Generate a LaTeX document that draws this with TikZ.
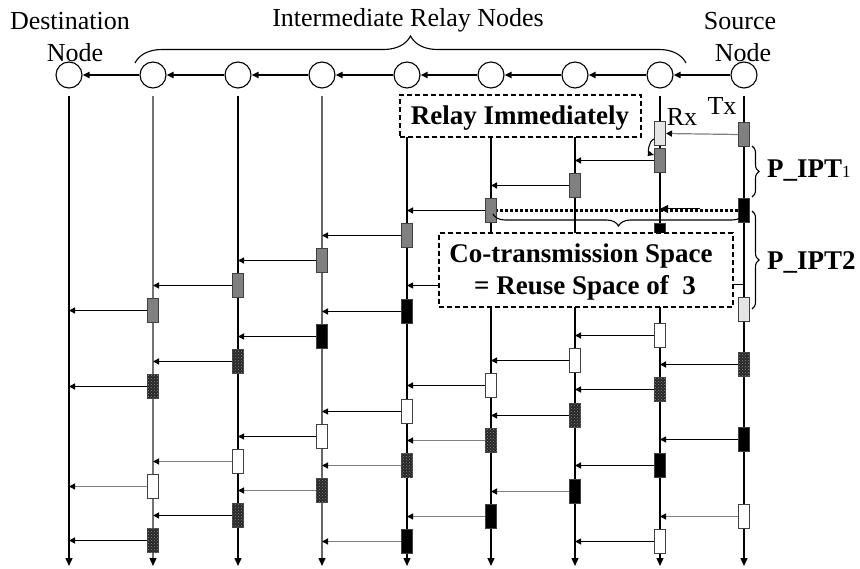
\documentclass[tikz,border=0pt]{standalone}
\usepackage{fontspec}
\setmainfont{Liberation Serif}
\usetikzlibrary{arrows.meta,decorations.pathreplacing,patterns,calc}
\begin{document}
\begin{tikzpicture}[x=1pt,y=-1pt,
  nd/.style={circle, draw, line width=1.1pt, minimum size=26pt, inner sep=0pt, fill=white},
  toparr/.style={line width=1.8pt, -{Triangle[length=7pt,width=6pt]}},
  vl/.style={line width=1.4pt, -{Triangle[length=8pt,width=7pt,color=black]}},
  bx/.style={draw=black!75, line width=1pt, minimum width=11pt, minimum height=24pt, inner sep=0pt, anchor=north},
  fG/.style={fill=black!50},
  fW/.style={fill=white},
  fL/.style={fill=black!10},
  fK/.style={fill=black},
  fD/.style={fill=black!85, postaction={pattern=crosshatch dots, pattern color=black!45}},
  arK/.style={line width=1.8pt, -{Triangle[length=6pt,width=6pt]}},
  arM/.style={line width=1.4pt, -{Triangle[length=6pt,width=6pt]}},
  arT/.style={line width=1pt, -{Triangle[length=6pt,width=6pt]}},
  arG/.style={line width=1.2pt, draw=black!50, -{Triangle[length=6pt,width=6pt,color=black]}},
  noar/.style={draw=none},
  dbox/.style={draw, dash pattern=on 5pt off 3pt, line width=1.1pt, fill=white, inner sep=0pt},
  lbl/.style={font=\fontsize{26}{30}\selectfont, inner sep=0pt, anchor=base},
  blbl/.style={font=\fontsize{27}{31}\selectfont\bfseries, inner sep=0pt, anchor=base},
  brc/.style={decorate, line width=1.1pt}
]
\useasboundingbox (0,0) rectangle (860,569);

% nodes
\foreach \i/\x in {0/69,1/153,2/238,3/322,4/407,5/491,6/575,7/660,8/744}{
  \node[nd] (n\i) at (\x,75) {};
  \coordinate (t\i) at (\x,96);
  \coordinate (b\i) at (\x,566);
}
\foreach \i [evaluate=\i as \j using int(\i+1)] in {0,...,7}{
  \draw[toparr] (n\j) -- (n\i);
}

% time lines
\foreach \i/\c in {0/black,1/black!55,2/black,3/black!60,4/black,5/black,6/black,7/black,8/black}{
  \draw[vl, draw=\c] (t\i) -- (b\i);
}

% packets
\foreach \nm/\i/\y/\f/\a [evaluate=\i as \j using int(\i-1)] in {
  s1/8/122/fG/noar, r1/7/121/fL/noar, g7/7/148/fG/arM, g6/6/173/fG/arK, g5/5/198/fG/arK,
  g4/4/223/fG/arK, g3/3/248/fG/arK, g2/2/273/fG/arK, g1/1/298/fG/arK,
  s2/8/198/fK/noar, k7/7/223/fK/arK, k6/6/248/fK/arK, k5/5/273/fK/arT, k4/4/299/fK/arK,
  k3/3/324/fK/arK, k2/2/349/fD/arK, k1/1/374/fD/arK,
  s3/8/297/fL/noar, w7/7/323/fW/arM, w6/6/348/fW/arT, w5/5/373/fW/arK, w4/4/399/fW/arT,
  w3/3/424/fW/arT, w2/2/449/fW/arG, w1/1/474/fW/arG,
  s4/8/352/fD/arK, d7/7/377/fD/arM, d6/6/403/fD/arT, d5/5/428/fD/arG, d4/4/453/fD/arG,
  d3/3/478/fD/arG, d2/2/503/fD/arK, d1/1/528/fD/arK,
  s5/8/427/fK/arT, e7/7/453/fK/arM, e6/6/479/fK/arG, e5/5/504/fK/arG, e4/4/529/fK/arG,
  s6/8/504/fW/arG, v7/7/529/fW/arT}{
  \node[bx,\f] (\nm) at (t\i |- 0,\y) {};
  \draw[\a] (\nm.west) -- (\nm.west -| t\j);
}

% special connectors
\draw[arG] (s1.west) -- (r1.east);
\draw[line width=1.1pt, -{Triangle[length=6pt,width=5pt]}]
  ($(r1.south west)+(0,-7)$) to[out=200,in=165] ($(g7.north west)+(0,7)$);
\draw[line width=3.5pt, dash pattern=on 3pt off 2pt] (s2.west) -- (g5.east);
\coordinate (dA) at (700,209);
\draw[arT, -{Triangle[length=8pt,width=8pt]}] (dA) -- (dA -| t7);
\draw[arT] (t8 |- 0,285) -- (t7 |- 0,285);

% dashed boxes
\node[dbox, minimum width=241pt, minimum height=42pt] (rib) at (520.5,116) {};
\node[dbox, minimum width=294pt, minimum height=74pt] (ctb) at (586,270) {};

% braces
\draw[brc, decoration={brace, amplitude=27pt}] (135,63) -- (686,63);
\draw[brc, decoration={brace, amplitude=12pt}] (744,214) -- (493,214);
\draw[brc, decoration={brace, amplitude=7pt}] (752,146) -- (752,197);
\draw[brc, decoration={brace, amplitude=7pt}] (752,211) -- (752,309);

% labels
\node[lbl] (ldst) at (70,30) {Destination};
\node[lbl] (ldstn) at (75,62) {Node};
\node[lbl] (lirn) at (408,27) {Intermediate Relay Nodes};
\node[lbl] (lsrc) at (740,30) {Source};
\node[lbl] (lsrcn) at (743,62) {Node};
\node[lbl] (ltx) at (722,115) {Tx};
\node[lbl] (lrx) at (682,126) {Rx};
\node[blbl] (lri) at (520,125) {Relay Immediately};
\node[blbl] (lct1) at (581,263) {Co-transmission Space};
\node[blbl] (lct2) at (585,295) {= Reuse Space of\ \ 3};
\node[blbl, anchor=base west] (lp1) at (767,178) {P\_IPT{\normalfont\fontsize{17}{17}\selectfont 1}};
\node[blbl, anchor=base west] (lp2) at (767,270) {P\_IPT2};
\end{tikzpicture}
\end{document}
